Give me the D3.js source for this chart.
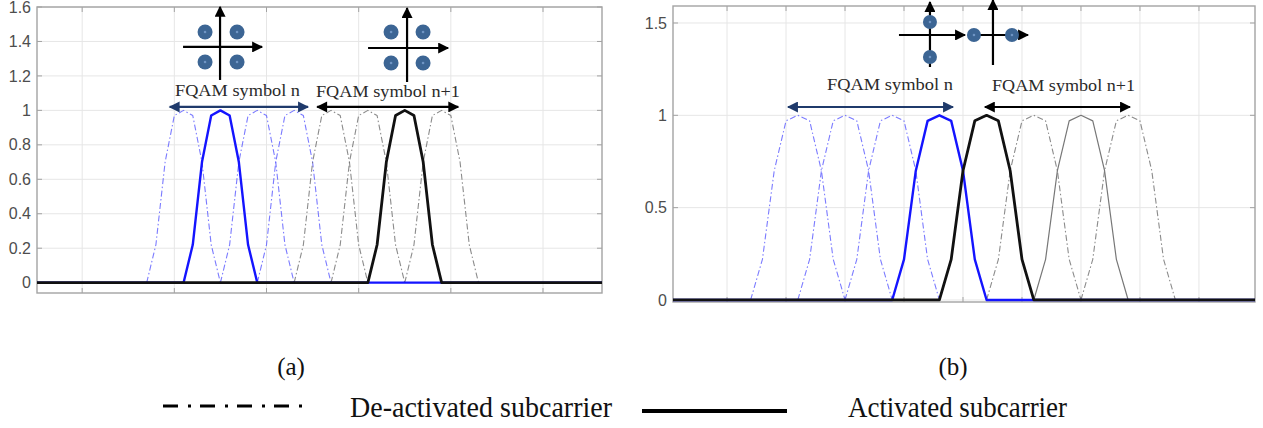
<!DOCTYPE html>
<html>
<head>
<meta charset="utf-8">
<script src="https://cdn.jsdelivr.net/npm/d3@7/dist/d3.min.js"></script>
<style>
  body { margin: 0; background: #fff; }
  svg { display: block; }
</style>
</head>
<body>
<svg id="fig" width="1263" height="428"></svg>
<script>
// one subcarrier pulse (sample offsets around the peak)
var pulseOffsets = [-4, -3, -2, -1, 0, 1, 2, 3, 4];
var pulseValues  = [0, 0.22, 0.7, 0.97, 1, 0.97, 0.7, 0.22, 0];

// panel (a)
var aTicksY = [0, 0.2, 0.4, 0.6, 0.8, 1, 1.2, 1.4, 1.6];
var aGridX = [10, 20, 30, 40, 50, 60];
var aSymNIdle = [21, 29, 33];
var aSymNActive = [25];
var aSymN1Idle = [37, 41, 49];
var aSymN1Active = [45];

// panel (b)
var bTicksY = [0, 0.5, 1, 1.5];
var bGridX = [5, 10, 15, 20, 25, 30, 35, 40, 45];
var bSymNIdle = [11, 15, 19];
var bSymNActive = [23];
var bSymN1Active = [27];
var bSymN1Idle = [31, 39];
var bSymN1Thin = [35];

var labelN = "FQAM symbol n";
var labelN1 = "FQAM symbol n+1";
var legendLabels = ["De-activated subcarrier", "Activated subcarrier"];

var navy = "#1f3a6b";
var dotFill = "#3c6594";

var svg = d3.select("#fig");
svg.append("rect").attr("width", 1263).attr("height", 428).attr("fill", "#fff");

var defs = svg.append("defs");
function marker(id, color, w, h) {
    defs.append("marker")
        .attr("id", id)
        .attr("viewBox", "0 0 10 10")
        .attr("refX", 9).attr("refY", 5)
        .attr("markerUnits", "userSpaceOnUse")
        .attr("markerWidth", w).attr("markerHeight", h)
        .attr("orient", "auto-start-reverse")
        .append("path")
        .attr("d", "M0,0 L10,5 L0,10 Z")
        .attr("fill", color);
}
marker("arrNavy", navy, 13, 11);
marker("arrBlack", "#000", 13, 11);
marker("arrAxis", "#000", 12, 11);

function pulse(peak) {
    return pulseOffsets.map(function(o, i) { return { s: peak + o, v: pulseValues[i] }; });
}

function drawPanel(cfg, id) {
    var x = d3.scaleLinear().domain(cfg.xDomain).range(cfg.xRange);
    var y = d3.scaleLinear().domain(cfg.yDomain).range(cfg.yRange);
    var g = svg.append("g");
    var x0 = cfg.xRange[0], x1 = cfg.xRange[1], y0 = cfg.yRange[0], y1 = cfg.yRange[1];

    defs.append("clipPath").attr("id", "clip" + id)
        .append("rect").attr("x", x0).attr("y", y1 - 8).attr("width", x1 - x0).attr("height", y0 - y1 + 8);

    // grid
    g.selectAll(".gy").data(cfg.ticksY).enter().append("line")
        .attr("x1", x0).attr("x2", x1)
        .attr("y1", function(d) { return y(d); }).attr("y2", function(d) { return y(d); })
        .attr("stroke", "#e6e6e6").attr("stroke-width", 1);
    g.selectAll(".gx").data(cfg.gridX).enter().append("line")
        .attr("x1", function(d) { return x(d); }).attr("x2", function(d) { return x(d); })
        .attr("y1", y1).attr("y2", y0)
        .attr("stroke", "#e6e6e6").attr("stroke-width", 1);

    // box and inner ticks
    g.append("rect").attr("x", x0).attr("y", y1).attr("width", x1 - x0).attr("height", y0 - y1)
        .attr("fill", "none").attr("stroke", "#a3a3a3").attr("stroke-width", 1.4);
    cfg.ticksY.forEach(function(t) {
        g.append("line").attr("x1", x0).attr("x2", x0 + 5).attr("y1", y(t)).attr("y2", y(t)).attr("stroke", "#a3a3a3");
        g.append("line").attr("x1", x1 - 5).attr("x2", x1).attr("y1", y(t)).attr("y2", y(t)).attr("stroke", "#a3a3a3");
    });
    cfg.gridX.forEach(function(t) {
        g.append("line").attr("x1", x(t)).attr("x2", x(t)).attr("y1", y0).attr("y2", y0 - 5).attr("stroke", "#a3a3a3");
        g.append("line").attr("x1", x(t)).attr("x2", x(t)).attr("y1", y1).attr("y2", y1 + 5).attr("stroke", "#a3a3a3");
    });

    // y labels
    var ax = g.append("g").attr("transform", "translate(" + (x0 - 2) + ",0)")
        .call(d3.axisLeft(y).tickValues(cfg.ticksY).tickSize(0).tickPadding(4)
            .tickFormat(function(d) { return String(d); }));
    ax.select(".domain").remove();
    ax.selectAll("text").attr("font-family", "Liberation Sans, Arial, sans-serif")
        .attr("font-size", 16).attr("fill", "#4d4d4d");

    var line = d3.line().x(function(d) { return x(d.s); }).y(function(d) { return y(d.v); });
    var plot = g.append("g").attr("clip-path", "url(#clip" + id + ")");

    cfg.series.forEach(function(sr) {
        sr.peaks.forEach(function(p) {
            var pts = pulse(p);
            if (sr.full) {
                pts = [{ s: cfg.xDomain[0], v: 0 }].concat(pts).concat([{ s: cfg.xDomain[1], v: 0 }]);
            }
            plot.append("path").datum(pts)
                .attr("d", line)
                .attr("fill", "none")
                .attr("stroke", sr.color)
                .attr("stroke-width", sr.width)
                .attr("stroke-opacity", sr.opacity || 1)
                .attr("stroke-dasharray", sr.dash || null)
                .attr("stroke-linejoin", "round");
        });
    });

    // annotations
    cfg.arrows.forEach(function(a) {
        g.append("line")
            .attr("x1", x(a.from)).attr("x2", x(a.to))
            .attr("y1", y(a.v)).attr("y2", y(a.v))
            .attr("stroke", a.color).attr("stroke-width", 2.2)
            .attr("marker-start", "url(#" + a.marker + ")")
            .attr("marker-end", "url(#" + a.marker + ")");
    });
    cfg.labels.forEach(function(l) {
        g.append("text").attr("x", x(l.s)).attr("y", y(l.v))
            .attr("font-family", "Liberation Serif, Times New Roman, serif")
            .attr("font-size", 17).attr("fill", "#2a2a2a")
            .attr("textLength", l.w).attr("lengthAdjust", "spacingAndGlyphs")
            .text(l.text);
    });
    cfg.constellations.forEach(function(c) {
        var cx = x(c.s), cy = y(c.v);
        g.append("line").attr("x1", cx + c.h[0]).attr("x2", cx + c.h[1]).attr("y1", cy).attr("y2", cy)
            .attr("stroke", "#000").attr("stroke-width", 2.2).attr("marker-end", "url(#arrAxis)");
        g.append("line").attr("x1", cx).attr("x2", cx).attr("y1", cy + c.vv[0]).attr("y2", cy + c.vv[1])
            .attr("stroke", "#000").attr("stroke-width", 2.2).attr("marker-end", "url(#arrAxis)");
        c.dots.forEach(function(d) {
            g.append("circle").attr("cx", cx + d[0]).attr("cy", cy + d[1]).attr("r", c.r).attr("fill", dotFill);
            g.append("circle").attr("cx", cx + d[0]).attr("cy", cy + d[1]).attr("r", 1.3).attr("fill", "#6f95c4");
        });
    });
}

var idleBlue = { color: "#5a5aff", width: 1.1, opacity: 0.8, dash: "6,2.5,1.5,2.5" };
var idleGray = { color: "#777", width: 1.1, opacity: 0.85, dash: "6,2.5,1.5,2.5" };

drawPanel({
    xDomain: [5.1, 66.4], xRange: [37, 602],
    yDomain: [-0.06, 1.6], yRange: [293, 7],
    ticksY: aTicksY, gridX: aGridX,
    series: [
        Object.assign({ peaks: aSymNIdle }, idleBlue),
        Object.assign({ peaks: aSymN1Idle }, idleGray),
        { peaks: aSymNActive, color: "#1414ff", width: 2.4, full: true },
        { peaks: aSymN1Active, color: "#111", width: 2.8, full: true }
    ],
    arrows: [
        { from: 19.5, to: 34.5, v: 1.02, color: navy, marker: "arrNavy" },
        { from: 35.5, to: 50.8, v: 1.02, color: "#000", marker: "arrBlack" }
    ],
    labels: [
        { s: 20.07, v: 1.083, w: 125, text: labelN },
        { s: 35.37, v: 1.078, w: 144, text: labelN1 }
    ],
    constellations: [
        { s: 24.96, v: 1.368, h: [-37, 42], vv: [33, -40], r: 7.5, dots: [[-15, -15], [17, -15], [-15, 15], [17, 15]] },
        { s: 45.25, v: 1.362, h: [-39, 41], vv: [34, -40], r: 7.5, dots: [[-16, -16], [16, -16], [-16, 15], [16, 15]] }
    ]
}, "a");

drawPanel({
    xDomain: [0.42, 49.75], xRange: [673, 1255],
    yDomain: [-0.011, 1.592], yRange: [302, 6],
    ticksY: bTicksY, gridX: bGridX,
    series: [
        Object.assign({ peaks: bSymNIdle }, idleBlue),
        Object.assign({ peaks: bSymN1Idle }, idleGray),
        { peaks: bSymN1Thin, color: "#777", width: 1.2 },
        { peaks: bSymNActive, color: "#1414ff", width: 2.4, full: true },
        { peaks: bSymN1Active, color: "#111", width: 2.8, full: true }
    ],
    arrows: [
        { from: 10.17, to: 24.15, v: 1.045, color: navy, marker: "arrNavy" },
        { from: 26.86, to: 39.15, v: 1.045, color: "#000", marker: "arrBlack" }
    ],
    labels: [
        { s: 13.47, v: 1.137, w: 126, text: labelN },
        { s: 27.46, v: 1.132, w: 143, text: labelN1 }
    ],
    constellations: [
        { s: 22.2, v: 1.435, h: [-31, 35], vv: [32, -33], r: 7, dots: [[0, -13], [0, 22]] },
        { s: 27.54, v: 1.435, h: [-23, 35], vv: [30, -35], r: 7, dots: [[-19, 0], [19, 0]] }
    ]
}, "b");

// captions
svg.append("text").attr("x", 291).attr("y", 375).attr("text-anchor", "middle")
    .attr("font-family", "Liberation Serif, serif").attr("font-size", 25).attr("fill", "#111").text("(a)");
svg.append("text").attr("x", 953).attr("y", 375).attr("text-anchor", "middle")
    .attr("font-family", "Liberation Serif, serif").attr("font-size", 25).attr("fill", "#111").text("(b)");

// legend
svg.append("line").attr("x1", 163).attr("x2", 310).attr("y1", 406).attr("y2", 406)
    .attr("stroke", "#000").attr("stroke-width", 3).attr("stroke-dasharray", "15,10,3,9");
svg.append("text").attr("x", 350).attr("y", 417)
    .attr("font-family", "Liberation Serif, serif").attr("font-size", 29).attr("fill", "#111")
    .attr("textLength", 262).attr("lengthAdjust", "spacingAndGlyphs").text(legendLabels[0]);
svg.append("line").attr("x1", 642).attr("x2", 787).attr("y1", 411).attr("y2", 411)
    .attr("stroke", "#000").attr("stroke-width", 4);
svg.append("text").attr("x", 848).attr("y", 417)
    .attr("font-family", "Liberation Serif, serif").attr("font-size", 29).attr("fill", "#111")
    .attr("textLength", 219).attr("lengthAdjust", "spacingAndGlyphs").text(legendLabels[1]);
</script>
</body>
</html>
